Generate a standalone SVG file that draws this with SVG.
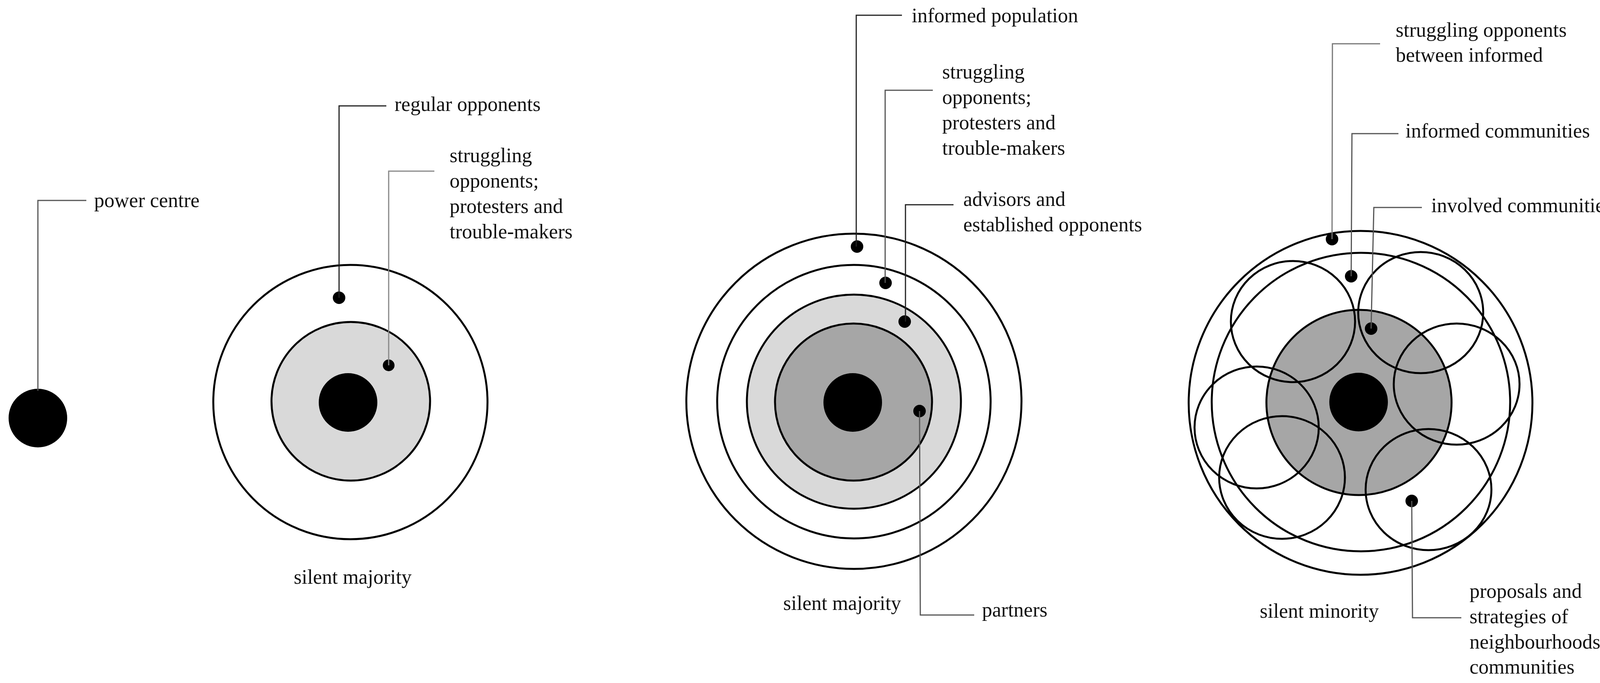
<svg xmlns="http://www.w3.org/2000/svg" width="4197" height="1748" viewBox="0 0 4197 1748">
<style>
text{font-family:"Liberation Serif","Times New Roman",serif;font-size:52px;fill:#111}
.ring{fill:none;stroke:#000;stroke-width:5}
.lg{fill:#d9d9d9;stroke:#000;stroke-width:5}
.dg{fill:#a6a6a6;stroke:#000;stroke-width:5}
.core{fill:#000}
.dot{fill:#000}
.lead{fill:none;stroke:#555;stroke-width:3}
</style>
<rect width="4197" height="1748" fill="#fff"/>
<g id="panel1-power-centre"><circle class="core" cx="97" cy="1070" r="75"/></g>
<g id="panel1-target">
<circle class="ring" cx="897" cy="1029" r="351"/>
<circle class="lg" cx="898" cy="1027" r="203"/>
<circle class="core" cx="891" cy="1030" r="75"/>
<circle class="dot" cx="868" cy="762" r="16"/>
<circle class="dot" cx="995" cy="935" r="15"/>
</g>
<g id="panel2-target">
<circle class="ring" cx="2186" cy="1027" r="429"/>
<circle class="ring" cx="2186" cy="1028" r="350"/>
<circle class="lg" cx="2186" cy="1028" r="274"/>
<circle class="dg" cx="2185" cy="1029" r="201"/>
<circle class="core" cx="2183" cy="1030" r="75"/>
<circle class="dot" cx="2194" cy="631" r="16"/>
<circle class="dot" cx="2267" cy="724" r="16"/>
<circle class="dot" cx="2316" cy="823" r="16"/>
<circle class="dot" cx="2354" cy="1052" r="16"/>
</g>
<g id="panel3-target">
<circle class="ring" cx="3483" cy="1031" r="440"/>
<circle class="dg" cx="3479" cy="1030" r="237"/>
<circle class="ring" cx="3484" cy="1029" r="382"/>
<ellipse class="ring" cx="3310" cy="823" rx="159" ry="155"/>
<ellipse class="ring" cx="3637" cy="800" rx="160" ry="155"/>
<ellipse class="ring" cx="3729" cy="983" rx="161" ry="155"/>
<ellipse class="ring" cx="3217" cy="1094" rx="159" ry="156"/>
<ellipse class="ring" cx="3282" cy="1222" rx="161" ry="157"/>
<ellipse class="ring" cx="3657" cy="1253" rx="161" ry="155"/>
<circle class="core" cx="3478" cy="1029" r="75"/>
<circle class="dot" cx="3410" cy="612" r="16"/>
<circle class="dot" cx="3459" cy="707" r="16"/>
<circle class="dot" cx="3510" cy="841" r="16"/>
<circle class="dot" cx="3614" cy="1282" r="16"/>
</g>
<g id="connectors">
<polyline class="lead" points="97,1000 97,513 221,513"/>
<polyline class="lead" points="868,762 868,271 989,271" style="stroke:#222"/>
<polyline class="lead" points="995,935 995,438 1112,438" style="stroke:#888"/>
<polyline class="lead" points="2192,631 2192,39 2309,39" style="stroke:#222"/>
<polyline class="lead" points="2266,724 2266,231 2388,231"/>
<polyline class="lead" points="2318,823 2318,524 2441,524" style="stroke:#222"/>
<polyline class="lead" points="2354,1052 2356,1574 2494,1574"/>
<polyline class="lead" points="3410,612 3411,112 3533,112" style="stroke:#777"/>
<polyline class="lead" points="3459,707 3461,342 3580,342"/>
<polyline class="lead" points="3510,841 3517,531 3640,531"/>
<polyline class="lead" points="3614,1282 3616,1581 3741,1581"/>
</g>
<g id="labels">
<text x="241" y="530">power centre</text>
<text x="1010" y="284">regular opponents</text>
<text x="1151" y="415">struggling</text>
<text x="1151" y="480">opponents;</text>
<text x="1151" y="545">protesters and</text>
<text x="1151" y="610">trouble-makers</text>
<text x="752" y="1494">silent majority</text>
<text x="2334" y="57">informed population</text>
<text x="2412" y="201">struggling</text>
<text x="2412" y="266">opponents;</text>
<text x="2412" y="331">protesters and</text>
<text x="2412" y="396">trouble-makers</text>
<text x="2466" y="527">advisors and</text>
<text x="2466" y="592">established opponents</text>
<text x="2514" y="1578">partners</text>
<text x="2005" y="1561">silent majority</text>
<text x="3573" y="94">struggling opponents</text>
<text x="3573" y="158">between informed</text>
<text x="3598" y="352">informed communities</text>
<text x="3664" y="543">involved communities</text>
<text x="3762" y="1530">proposals and</text>
<text x="3762" y="1595">strategies of</text>
<text x="3762" y="1660">neighbourhoods and</text>
<text x="3762" y="1724">communities</text>
<text x="3225" y="1581">silent minority</text>
</g>
</svg>
